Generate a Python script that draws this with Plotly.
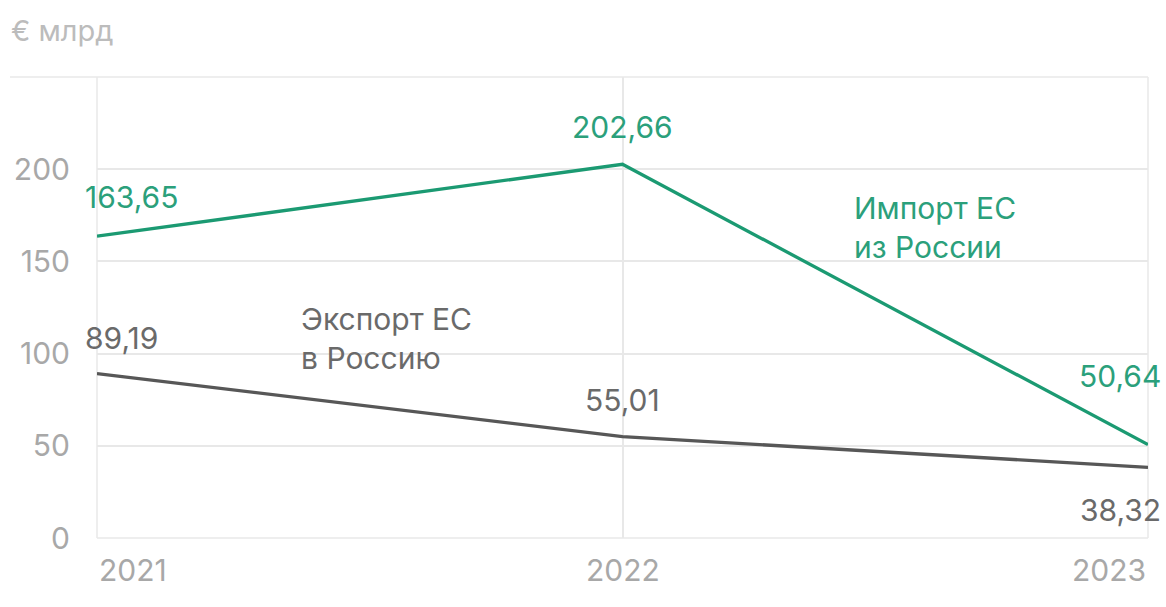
import plotly.graph_objects as go

years = [2021, 2022, 2023]
year_labels = ["2021", "2022", "2023"]
imports_eu = [163.65, 202.66, 50.64]
exports_eu = [89.19, 55.01, 38.32]
import_labels = ["163,65", "202,66", "50,64"]
export_labels = ["89,19", "55,01", "38,32"]
y_ticks = [0, 50, 100, 150, 200, 250]
y_tick_text = ["0", "50", "100", "150", "200", ""]
import_name = "Импорт ЕС<br>из России"
export_name = "Экспорт ЕС<br>в Россию"
unit_label = "€ млрд"

GREEN = "#1b9a72"
GREEN_TXT = "#2ba07b"
DARK = "#575757"
DARK_TXT = "#6a6a6a"
TICK = "#a8a8a8"
GRID = "#e8e8e8"
FONT = "Inter"
FS = 30

fig = go.Figure()
fig.add_trace(go.Scatter(x=years, y=imports_eu, mode="lines",
                         line=dict(color=GREEN, width=3.3), hoverinfo="skip"))
fig.add_trace(go.Scatter(x=years, y=exports_eu, mode="lines",
                         line=dict(color=DARK, width=3.3), hoverinfo="skip"))

ann = []
imp_pos = [("left", -14, 39), ("center", 0, 37), ("right", 15, 69)]
exp_pos = [("left", -14, 36), ("center", 0, 37), ("right", 15, -43)]
for i in range(3):
    xa, xs, ys = imp_pos[i]
    ann.append(dict(x=years[i], y=imports_eu[i], xref="x", yref="y", text=import_labels[i],
                    showarrow=False, xanchor=xa, yanchor="middle", xshift=xs, yshift=ys,
                    font=dict(family=FONT, size=FS, color=GREEN_TXT)))
    xa, xs, ys = exp_pos[i]
    ann.append(dict(x=years[i], y=exports_eu[i], xref="x", yref="y", text=export_labels[i],
                    showarrow=False, xanchor=xa, yanchor="middle", xshift=xs, yshift=ys,
                    font=dict(family=FONT, size=FS, color=DARK_TXT)))

x_anchor = ["left", "center", "right"]
for i in range(3):
    ann.append(dict(x=years[i], y=0, xref="x", yref="paper", text=year_labels[i],
                    showarrow=False, xanchor=x_anchor[i], yanchor="middle", yshift=-32,
                    font=dict(family=FONT, size=FS, color=TICK)))

W, H = 1166, 607
L, R, T, B = 97, 18, 77, 69
pw = W - L - R
ph = H - T - B


def px_x(px):
    return (px - L) / pw


def px_y(py):
    return 1 - (py - T) / ph


ann.append(dict(x=px_x(852), y=px_y(228), xref="paper", yref="paper", text=import_name,
                showarrow=False, xanchor="left", yanchor="middle", align="left",
                font=dict(family=FONT, size=FS, color=GREEN_TXT)))
ann.append(dict(x=px_x(299), y=px_y(338), xref="paper", yref="paper", text=export_name,
                showarrow=False, xanchor="left", yanchor="middle", align="left",
                font=dict(family=FONT, size=FS, color=DARK_TXT)))

ann.append(dict(x=px_x(9), y=px_y(30), xref="paper", yref="paper", text=unit_label,
                showarrow=False, xanchor="left", yanchor="middle",
                font=dict(family=FONT, size=29, color="#bcbcbc")))

gl = dict(color=GRID, width=1.5)
shapes = [
    # edge gridlines (plotly hides grid lines on the plot edges)
    dict(type="line", xref="paper", yref="paper", x0=px_x(10), x1=1, y0=1, y1=1, line=gl, layer="below"),
    dict(type="line", xref="paper", yref="paper", x0=0, x1=1, y0=0, y1=0, line=gl, layer="below"),
    dict(type="line", xref="paper", yref="paper", x0=0, x1=0, y0=0, y1=1, line=gl, layer="below"),
    dict(type="line", xref="paper", yref="paper", x0=1, x1=1, y0=0, y1=1, line=gl, layer="below"),
    # white backgrounds behind labels (hide gridlines)
    dict(type="rect", xref="paper", yref="paper", x0=px_x(293), x1=px_x(478),
         y0=px_y(372), y1=px_y(300), fillcolor="white", line=dict(width=0), layer="below"),
    dict(type="rect", xref="paper", yref="paper", x0=px_x(849), x1=px_x(1018),
         y0=px_y(268), y1=px_y(190), fillcolor="white", line=dict(width=0), layer="below"),
    dict(type="rect", xref="paper", yref="paper", x0=px_x(99), x1=px_x(159),
         y0=px_y(358), y1=px_y(320), fillcolor="white", line=dict(width=0), layer="below"),
]

fig.update_layout(
    width=W, height=H,
    margin=dict(l=L, r=R, t=T, b=B),
    paper_bgcolor="white", plot_bgcolor="white",
    showlegend=False,
    annotations=ann,
    shapes=shapes,
    xaxis=dict(range=[2021, 2023], tickvals=years, showticklabels=False,
               showgrid=True, gridcolor=GRID, gridwidth=1.5, zeroline=False, showline=False,
               ticks=""),
    yaxis=dict(range=[0, 250], tickvals=y_ticks, ticktext=y_tick_text,
               showgrid=True, gridcolor=GRID, gridwidth=1.5, zeroline=False, showline=False,
               ticks="", ticklabelstandoff=26,
               tickfont=dict(family=FONT, size=FS, color=TICK)),
    font=dict(family=FONT),
)

fig.write_html("out.html", config={"displayModeBar": False},
               post_script="document.body.style.margin='0';")
